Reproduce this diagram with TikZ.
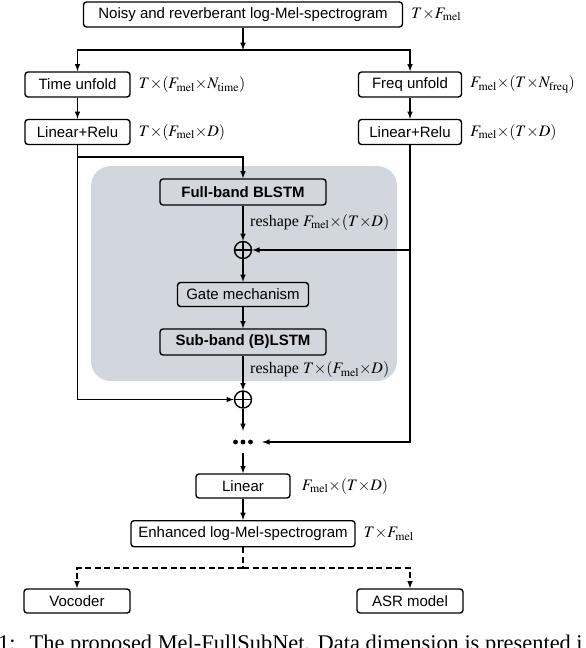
\documentclass[tikz,border=0pt]{standalone}
\usepackage{mathptmx}
\usepackage{fontspec}
\setmainfont{Liberation Serif}
\setsansfont{Liberation Sans}
\usetikzlibrary{arrows}
\usetikzlibrary{positioning}
\definecolor{graybg}{RGB}{210,214,221}
\newcommand{\Fmel}{F_{\mathrm{mel}}}
\newcommand{\mtimes}{{\times}}

\begin{document}
\begin{tikzpicture}[x=1pt, y=-1pt,
  every node/.style = {align=center},
  block/.style = {draw, rounded corners=3pt, line width=1.4pt, inner sep=0pt,
    minimum height=25pt, font=\fontsize{15}{18}\selectfont\sffamily},
  bold/.style = {font=\fontsize{15}{18}\selectfont\sffamily\bfseries},
  dim/.style = {inner sep=1pt, font=\fontsize{16}{19}\selectfont},
  plus/.style = {draw, circle, line width=1.4pt, minimum size=17pt, inner sep=0pt,
    path picture={\draw[line width=1.4pt]
      (path picture bounding box.north) -- (path picture bounding box.south)
      (path picture bounding box.west) -- (path picture bounding box.east);}},
  link/.style = {draw, line width=1.5pt, -latex},
  dashlink/.style = {line width=1.5pt, dash pattern=on 6pt off 3.5pt}]
  \useasboundingbox (0,0) rectangle (586,648);
  % shaded core
  \fill[graybg, rounded corners=20pt] (91,166) rectangle (397,381);

  \node[block, minimum width=319pt] (input) at (243,14.5) {Noisy and reverberant log-Mel-spectrogram};
  \node[dim, right=7pt of input] {$T\mtimes\Fmel$};
  \node[block, minimum width=105pt] (tunfold) at (77.5,84.5) {Time unfold};
  \node[dim, right=7pt of tunfold] {$T\mtimes(\Fmel\mtimes N_{\mathrm{time}})$};
  \node[block, minimum width=103pt] (funfold) at (410,84.5) {Freq unfold};
  \node[dim, right=7pt of funfold] {$\Fmel\mtimes(T\mtimes N_{\mathrm{freq}})$};
  \node[block, minimum width=105pt] (tlinear) at (77.5,132) {Linear+Relu};
  \node[dim, right=7pt of tlinear] {$T\mtimes(\Fmel\mtimes D)$};
  \node[block, minimum width=103pt] (flinear) at (410,132) {Linear+Relu};
  \node[dim, right=7pt of flinear] {$\Fmel\mtimes(T\mtimes D)$};

  \node[block, bold, minimum width=166pt, minimum height=26pt] (fullband) at (243,192) {Full-band BLSTM};
  \node[plus] (plusf) at (243,250) {};
  \node[dim, anchor=west] at (249,222) {reshape $\Fmel\mtimes(T\mtimes D)$};
  \node[block, minimum width=131pt, minimum height=24pt] (gate) at (243,294.5) {Gate mechanism};
  \node[block, bold, minimum width=166pt, minimum height=26pt] (subband) at (243,342) {Sub-band (B)LSTM};
  \node[dim, anchor=west] at (249,369.5) {reshape $T\mtimes(\Fmel\mtimes D)$};
  \node[plus] (plust) at (243,399.5) {};

  \node[minimum width=38pt, minimum height=22pt, inner sep=0pt] (dots) at (243,442) {};
  \foreach \dx in {-7.5,0,7.5}
    \fill ([xshift=\dx pt]dots.center) circle (2.4pt);

  \node[block, minimum width=94pt, minimum height=24pt] (linear) at (243,486) {Linear};
  \node[dim, right=10pt of linear] {$\Fmel\mtimes(T\mtimes D)$};
  \node[block, minimum width=224pt, minimum height=26pt] (enhanced) at (243,533.7) {Enhanced log-Mel-spectrogram};
  \node[dim, right=7pt of enhanced] {$T\mtimes\Fmel$};
  \node[block, minimum width=106pt, minimum height=24pt] (vocoder) at (77,601) {Vocoder};
  \node[block, minimum width=106pt, minimum height=24pt] (asr) at (410,601) {ASR model};

  \node[anchor=base west, inner sep=0pt, font=\fontsize{22.4}{26}\selectfont] (caption) at (-2,650)
    {1:\hspace{14pt}The proposed Mel-FullSubNet. Data dimension is presented i};

  \coordinate (split) at (243,50);
  \coordinate (tjoin) at (243,157);
  \coordinate (osplit) at (243,568);
  \draw[link] (input) -- (split);
  \draw[link] (split) -| (tunfold);
  \draw[link] (split) -| (funfold);
  \draw[link] (tunfold) -- (tlinear);
  \draw[link] (funfold) -- (flinear);
  \draw[link] (tlinear) |- (tjoin) -- (fullband);
  \draw[link] (tlinear) |- (plust);
  \draw[link] (fullband) -- (plusf);
  \draw[link] (flinear.south |- plusf) -- (plusf);
  \draw[link] (flinear) |- (dots);
  \draw[link] (plusf) -- (gate);
  \draw[link] (gate) -- (subband);
  \draw[link] (subband) -- (plust);
  \draw[link] (plust) -- (dots);
  \draw[link] (dots) -- (linear);
  \draw[link] (linear) -- (enhanced);
  \draw[dashlink] (enhanced) -- (osplit);
  \draw[link, dashlink] (osplit) -| (vocoder);
  \draw[link, dashlink] (osplit) -| (asr);
\end{tikzpicture}
\end{document}
